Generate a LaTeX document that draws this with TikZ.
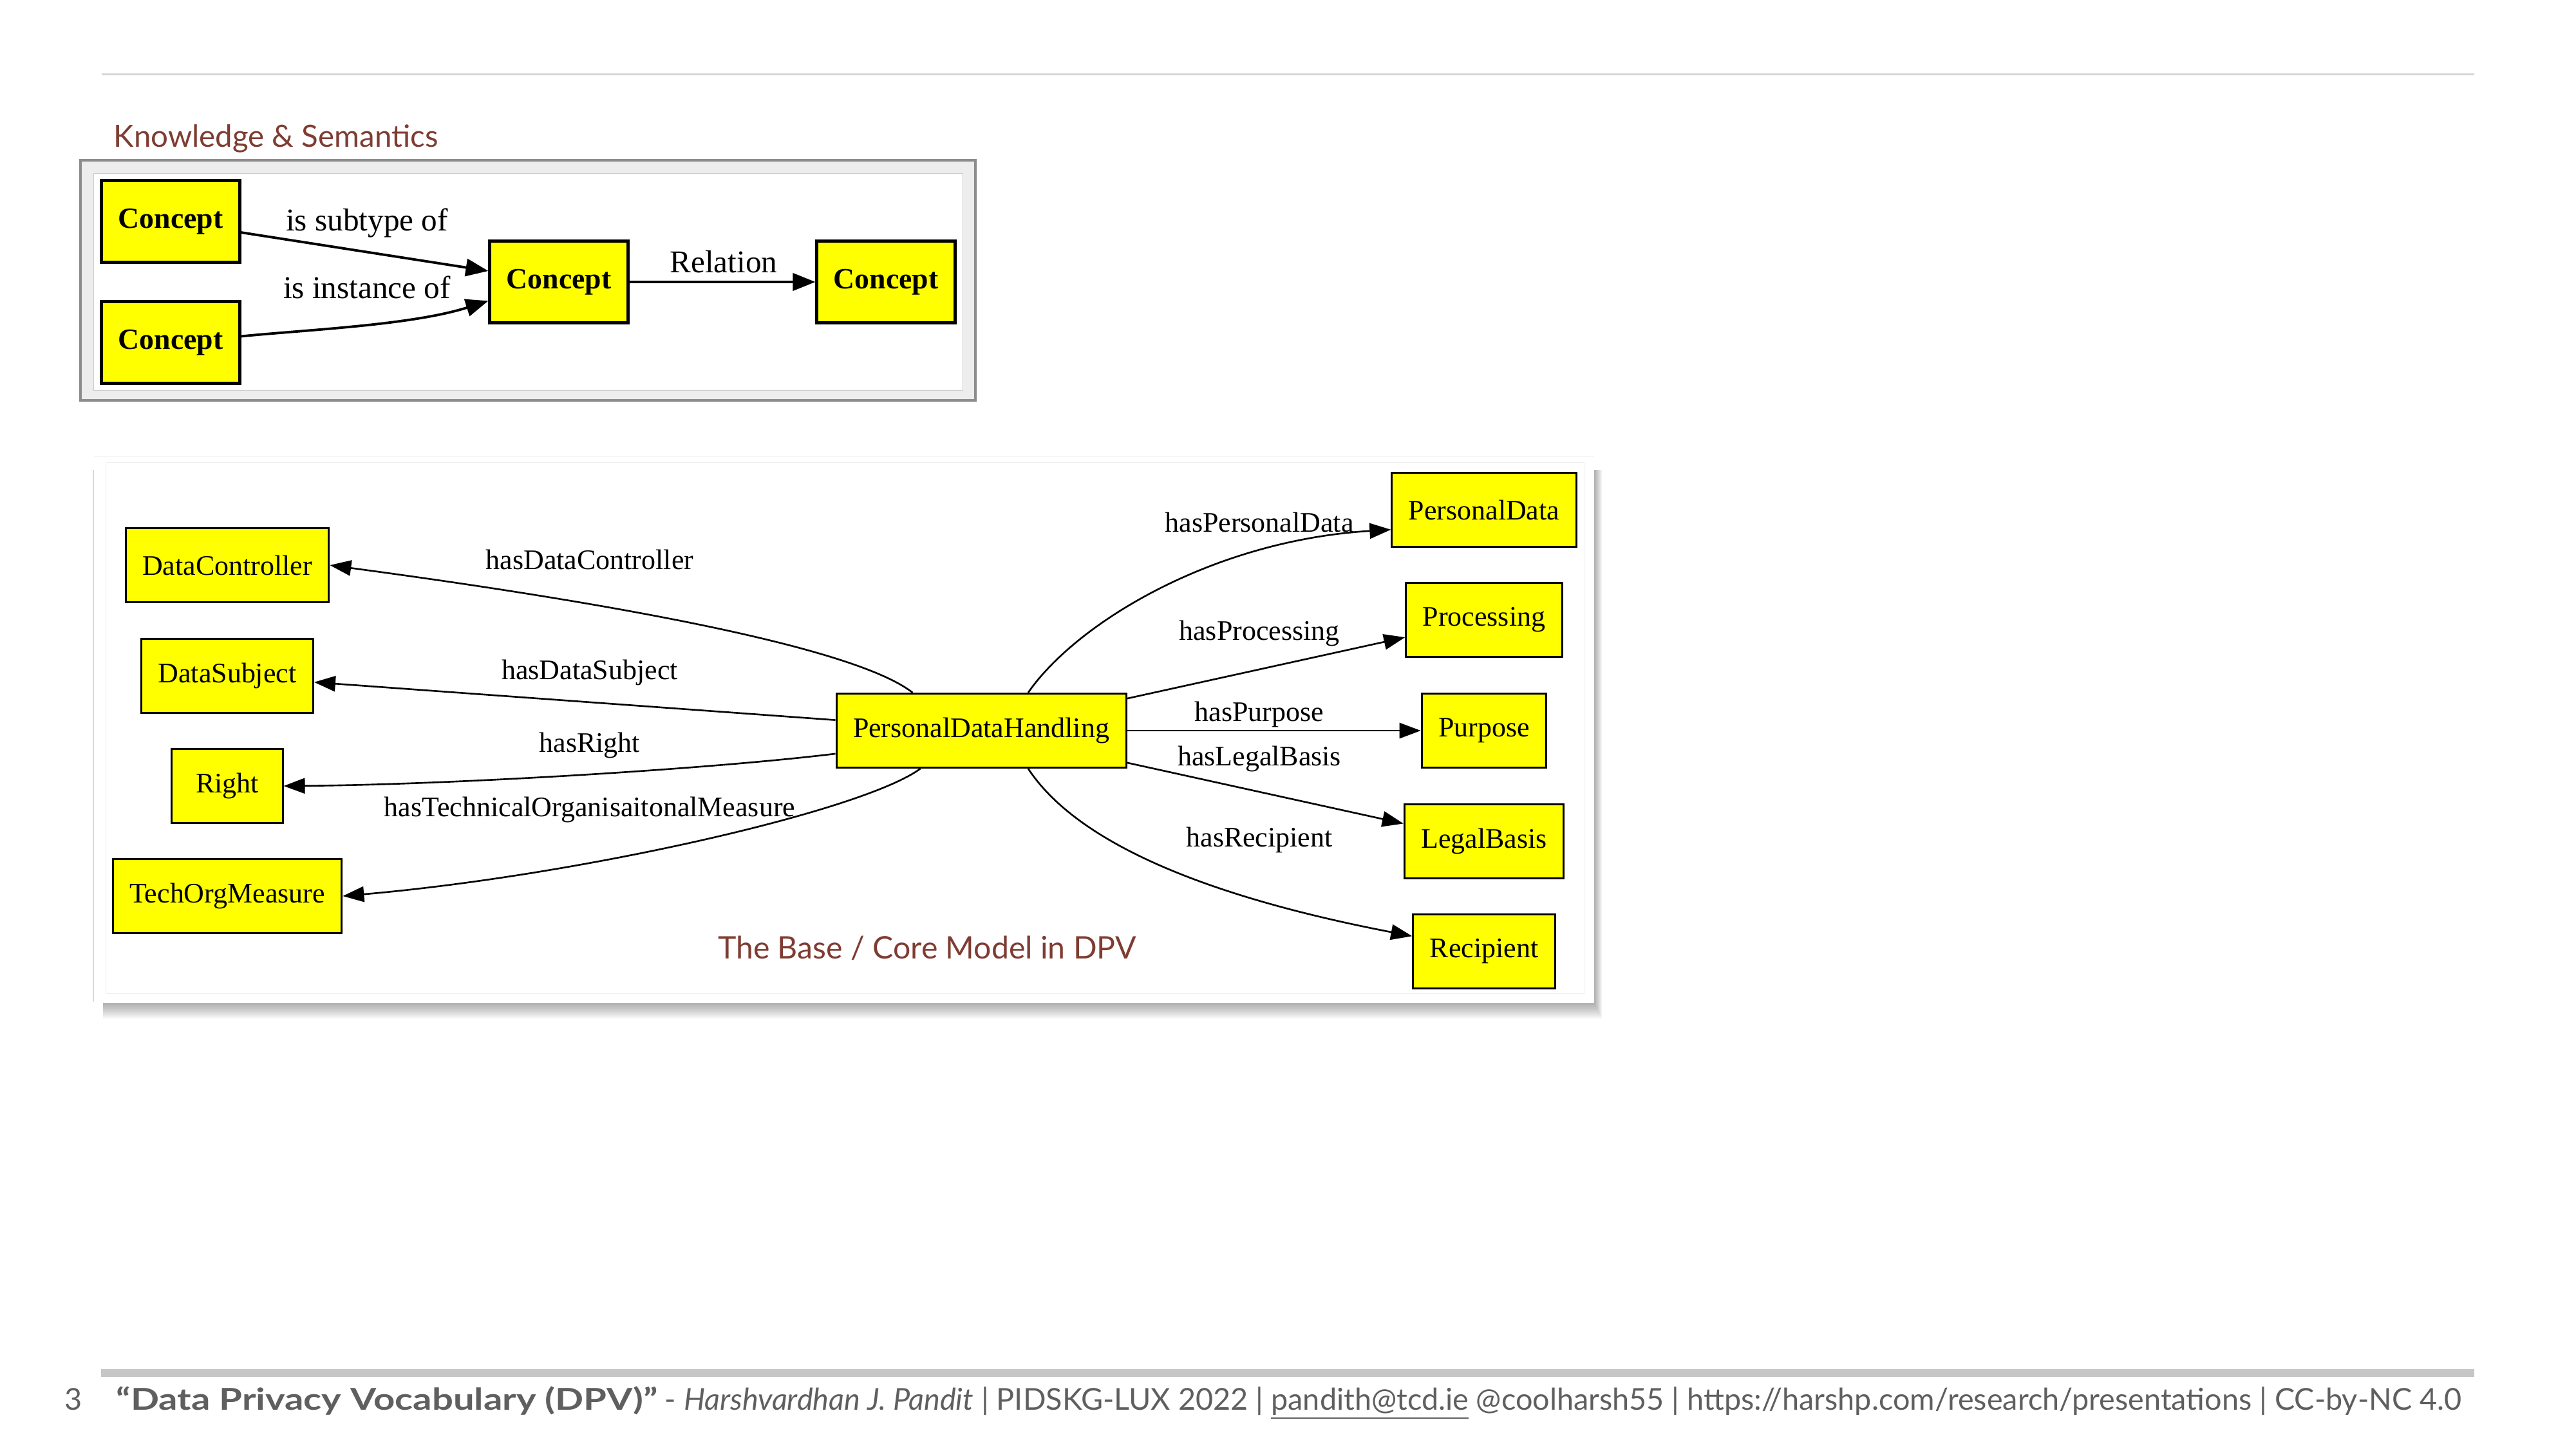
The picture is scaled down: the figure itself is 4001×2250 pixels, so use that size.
\documentclass[tikz,border=0pt]{standalone}
\usepackage{fontspec}
\setmainfont{Liberation Serif}
\newfontfamily\slidefont{Lato}
\usetikzlibrary{arrows.meta}

\definecolor{slidered}{RGB}{127,60,50}
\definecolor{footgray}{RGB}{95,95,95}
\definecolor{bargray}{RGB}{198,198,198}
\definecolor{nodeyellow}{RGB}{255,255,0}

\tikzset{
  concept/.style={draw=black, fill=nodeyellow, line width=1.3pt, inner xsep=0.26cm,
    minimum height=1.27cm, font=\fontsize{13}{15}\selectfont\bfseries},
  term/.style={draw=black, fill=nodeyellow, line width=0.85pt, inner xsep=0.26cm,
    minimum height=1.15cm, font=\fontsize{12.5}{15}\selectfont},
  bigrel/.style={line width=1.1pt, -{Triangle[length=0.35cm, width=0.27cm]}},
  rel/.style={line width=0.75pt, -{Triangle[length=0.33cm, width=0.24cm]}},
  bigtag/.style={anchor=base, inner sep=0pt, font=\fontsize{14}{16}\selectfont},
  tag/.style={anchor=base, inner sep=0pt, font=\fontsize{12.5}{15}\selectfont},
  slidetext/.style={inner sep=0pt, font=\slidefont\fontsize{13.5}{16}\selectfont, text=slidered},
  foottext/.style={inner sep=0pt, anchor=base west, text=footgray, font=\slidefont\fontsize{13.3}{15}\selectfont}
}

\begin{document}
\begin{tikzpicture}[x=0.01cm, y=-0.01cm]
\useasboundingbox (0,0) rectangle (4001,2250);

\def\xl{353}
\def\xr{2305}
\def\xm{916}
\def\xn{1956}

% slide rules
\draw[line width=0.03cm, black!16] (158,115) -- (3843,115);
\fill[bargray] (157,2127) rectangle (3843,2139);

% upper frame
\fill[black!7] (125,249) rectangle (1515,622);
\draw[line width=0.04cm, black!45] (125,249) rectangle (1515,622);
\draw[line width=0.01cm, black!20, fill=white] (145,269) rectangle (1495,606);

\node[slidetext, anchor=base west] (ks) at (176,228) {Knowledge \& Semantics};

\node[concept] (c1) at (265,344) {Concept};
\node[concept] (c2) at (265,532) {Concept};
\node[concept] (c3) at (868,438) {Concept};
\node[concept] (c4) at (1376,438) {Concept};

\draw[bigrel] (c1) -- (c3);
\draw[bigrel] (c2.5) .. controls (480,512) and (640,505) .. (c3.195);
\draw[bigrel] (c3) -- (c4);

\node[bigtag] at (570,358) {is subtype of};
\node[bigtag] at (570,463) {is instance of};
\node[bigtag] at (1124,423) {Relation};

% lower frame
\foreach \d in {3,6,...,24}
  \fill[black, opacity=0.045] (160,730) rectangle (2476+\d*0.5, 1558+\d);
\draw[line width=0.03cm, black!15] (145,730) -- (145,1556);
\fill[white] (146,709) rectangle (2476,1558);
\draw[line width=0.01cm, black!5] (146,709) -- (2476,709);
\draw[line width=0.01cm, black!6] (164,718) rectangle (2460,1543);

\node[term] (pdh) at (1524,1135) {PersonalDataHandling};
\node[term] (dc) at (\xl,878) {DataController};
\node[term] (ds) at (\xl,1050) {DataSubject};
\node[term, minimum width=1.72cm] (rt) at (\xl,1221) {Right};
\node[term] (tom) at (\xl,1392) {TechOrgMeasure};
\node[term] (pd) at (\xr,792) {PersonalData};
\node[term] (proc) at (\xr,963) {Processing};
\node[term] (purp) at (\xr,1135) {Purpose};
\node[term] (lb) at (\xr,1307) {LegalBasis};
\node[term] (rec) at (\xr,1478) {Recipient};

\draw[rel] (pdh.151) .. controls (1320,1000) and (900,930) .. (dc.east);
\draw[rel] (pdh) -- (ds);
\draw[rel] (pdh.189) .. controls (1100,1195) and (700,1219) .. (rt.east);
\draw[rel] (pdh.212) .. controls (1340,1260) and (900,1360) .. (tom.east);
\draw[rel] (pdh.39) .. controls (1670,970) and (1880,840) .. (pd.192);
\draw[rel] (pdh) -- (proc);
\draw[rel] (pdh) -- (purp);
\draw[rel] (pdh) -- (lb);
\draw[rel] (pdh.-39) .. controls (1670,1305) and (1860,1390) .. (rec.168);

\node[tag] at (\xm,884) {hasDataController};
\node[tag] at (\xm,1055) {hasDataSubject};
\node[tag] at (\xm,1168) {hasRight};
\node[tag] at (\xm,1268) {hasTechnicalOrganisaitonalMeasure};
\node[tag] at (\xn,826) {hasPersonalData};
\node[tag] at (\xn,994) {hasProcessing};
\node[tag] at (\xn,1120) {hasPurpose};
\node[tag] at (\xn,1189) {hasLegalBasis};
\node[tag] at (\xn,1315) {hasRecipient};

\node[slidetext, anchor=base, font=\slidefont\fontsize{13.7}{16}\selectfont] (core) at (1440,1489) {The Base / Core Model in DPV};

% footer
\node[foottext] (pg) at (100,2190) {3};
\node[foottext] (foot) at (180,2190)
  {\scalebox{1.24}[1]{\textbf{“Data Privacy Vocabulary (DPV)”}} - \textit{Harshvardhan J. Pandit} | PIDSKG-LUX 2022 | \underline{pandith@tcd.ie} @coolharsh55 | https://harshp.com/research/presentations | CC-by-NC 4.0};

\end{tikzpicture}
\end{document}
